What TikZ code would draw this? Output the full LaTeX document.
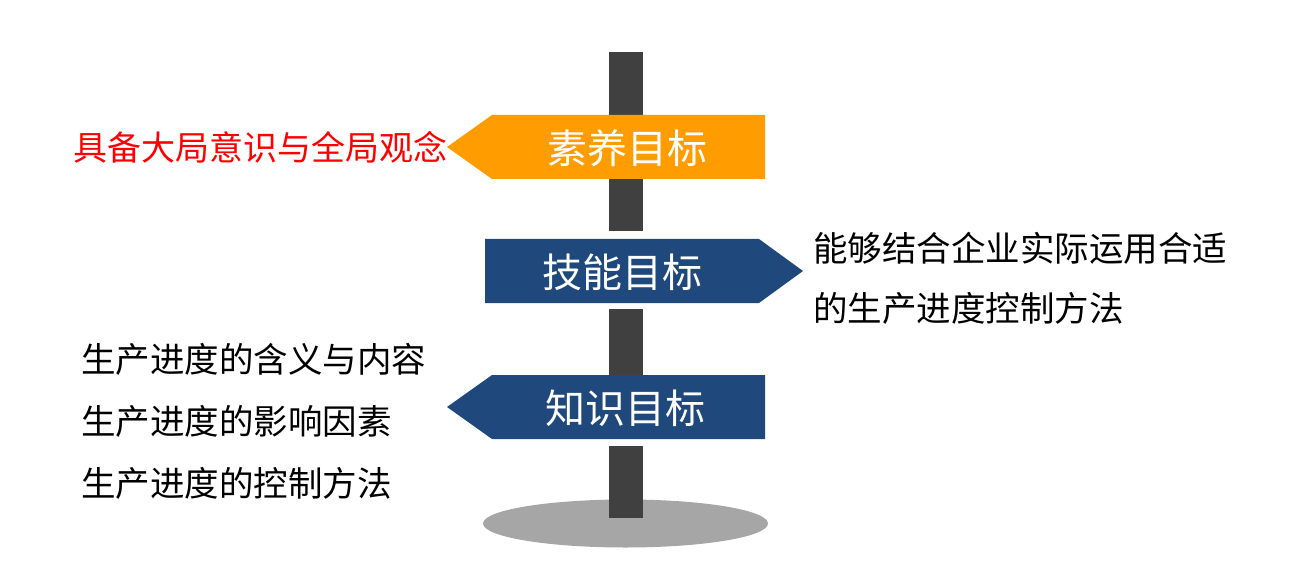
\documentclass[tikz,border=0pt]{standalone}
\usepackage{fontspec}
\setmainfont{Noto Sans CJK SC}
\newfontfamily\cjk{Noto Sans CJK SC}
\definecolor{signorange}{HTML}{FF9C00}
\definecolor{signblue}{HTML}{1F497D}
\definecolor{poledark}{HTML}{404040}
\definecolor{basegray}{HTML}{A6A6A6}
\tikzset{
  signtext/.style={text=white, inner sep=0pt, font=\cjk\fontsize{40}{44}\selectfont},
  bodytext/.style={text=black, inner sep=0pt, anchor=west, font=\cjk\fontsize{34.5}{38}\selectfont},
  redtext/.style={text=red, inner sep=0pt, anchor=west, font=\cjk\fontsize{34}{38}\selectfont}
}
\begin{document}
\begin{tikzpicture}[x=1pt,y=-1pt]
\useasboundingbox (0,0) rectangle (1289,577);
% base
\fill[basegray] (625.5,523.5) ellipse [x radius=142.5, y radius=24];
% pole segments
\fill[poledark] (609,52) rectangle (643,231);
\fill[poledark] (609,309) rectangle (643,375);
\fill[poledark] (609,446) rectangle (643,518);
% signs
\fill[signorange] (447,147) -- (492,115) -- (765,115) -- (765,179) -- (492,179) -- cycle;
\fill[signblue] (485,239) -- (759,239) -- (803,271) -- (759,303) -- (485,303) -- cycle;
\fill[signblue] (447,407) -- (492,375) -- (765,375) -- (765,439) -- (492,439) -- cycle;
% sign labels
\node[signtext] (s1) at (627,148) {素养目标};
\node[signtext] (s2) at (622,272) {技能目标};
\node[signtext] (s3) at (625,408) {知识目标};
% side texts
\node[redtext] (r1) at (73,147) {具备大局意识与全局观念};
\node[bodytext] (k1) at (813,248) {能够结合企业实际运用合适};
\node[bodytext] (k2) at (813,308) {的生产进度控制方法};
\node[bodytext] (z1) at (81,359) {生产进度的含义与内容};
\node[bodytext] (z2) at (81,421) {生产进度的影响因素};
\node[bodytext] (z3) at (81,483) {生产进度的控制方法};
\end{tikzpicture}
\end{document}
